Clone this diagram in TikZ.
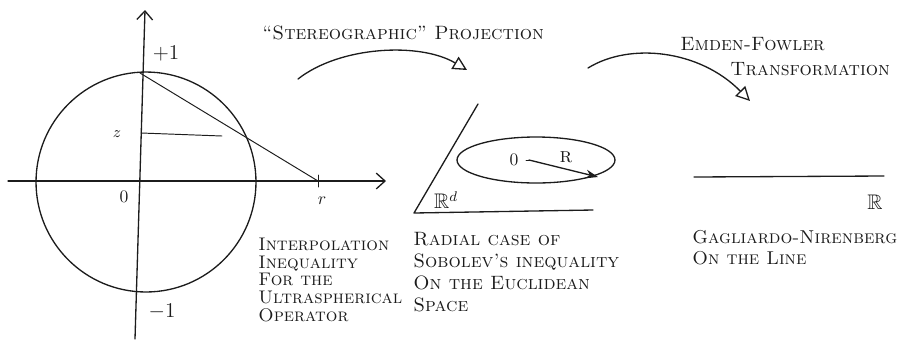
\documentclass[tikz,border=0pt]{standalone}
\usepackage{amssymb}
\usepackage{tikz}
\usetikzlibrary{arrows.meta,calc,positioning,shapes.geometric}
\definecolor{Ink}{HTML}{1C1C1C}

\begin{document}
\begin{tikzpicture}[x=0.02cm,y=-0.02cm,line cap=round,line join=round,
    pen/.style={draw=Ink,line width=0.75pt},
    thin pen/.style={draw=Ink,line width=0.55pt},
    lettering/.style={anchor=west,inner sep=0pt,text=Ink,font=\fontsize{11}{11}\selectfont\scshape},
    block/.style={lettering,anchor=north west,align=left},
    glyph/.style={inner sep=0pt,text=Ink,font=\large}]
    \useasboundingbox (0,0) rectangle (913,339);

    % sphere and its axes
    \node[circle,pen,minimum size=4.4cm,inner sep=0pt] (sphere) at (146,182) {};
    \coordinate (xl) at (8,181);
    \coordinate (xr) at (386,181);
    \coordinate (yb) at (135,339);
    \coordinate (yt) at (145,10);
    \draw[pen,-{Straight Barb[length=5pt,width=9pt]}] (xl) -- (xr);
    \draw[pen,-{Straight Barb[length=5pt,width=9pt]}] (yb) -- (yt);
    \coordinate (pole) at (140,73);
    \coordinate (rpt) at (318,181);
    \draw[thin pen] (pole) -- (rpt);
    \draw[thin pen] ($(rpt)+(0,-6)$) -- ($(rpt)+(0,6)$);
    \coordinate (zl) at (141,133);
    \coordinate (zr) at (222,136);
    \draw[thin pen] (zl) -- (zr);
    \node[glyph] (plus) at (166,54) {$+1$};
    \node[glyph] (minus) at (162,312) {$-1$};
    \node[glyph,font=\normalsize] (zero) at (124,197) {$0$};
    \node[glyph,font=\small] (zlab) at (117,134) {$z$};
    \node[glyph,font=\normalsize] (rlab) at (322,201) {$r$};

    % Euclidean space
    \coordinate (pa) at (478,104);
    \coordinate (pb) at (414,213);
    \coordinate (pc) at (593,210);
    \draw[pen] (pa) -- (pb) -- (pc);
    \node[glyph] (rd) at (446,200) {$\mathbb{R}^d$};
    \node[ellipse,pen,minimum width=3.16cm,minimum height=0.92cm,inner sep=0pt] (ball) at (536,160) {};
    \node[glyph,font=\normalsize] (orig) at (514,160) {$0$};
    \coordinate (ctr) at (529,160);
    \coordinate (edge) at (598,177);
    \draw[thin pen] ($(ctr)+(-3,0)$) -- ($(ctr)+(3,0)$);
    \draw[pen,-{Stealth[length=7pt,width=5pt]}] (ctr) -- (edge);
    \node[glyph,font=\large\scshape] (rad) at (566,157) {r};

    % the line
    \coordinate (ll) at (694,177);
    \coordinate (lr) at (884,176);
    \draw[pen] (ll) -- (lr);
    \node[glyph] (reals) at (875,202) {$\mathbb{R}$};

    % transformations
    \coordinate (s1) at (298,79);
    \coordinate (e1) at (467,70);
    \draw[pen,-{Triangle[open,length=8pt,width=8pt]}] (s1) .. controls (340,46) and (420,42) .. (e1);
    \coordinate (s2) at (588,68);
    \coordinate (e2) at (750,101);
    \draw[pen,-{Triangle[open,length=8pt,width=8pt]}] (s2) .. controls (630,42) and (700,50) .. (e2);
    \node[lettering] (stereo) at (262,33) {``Stereographic'' Projection};
    \node[lettering] (emden) at (680,44) {Emden-Fowler};
    \node[lettering] (transf) at (730,69) {Transformation};

    % captions
    \node[block,font=\fontsize{10.4}{10}\selectfont\scshape] (ultra) at (258,238)
      {Interpolation\\Inequality\\For the\\Ultraspherical\\Operator};
    \node[block,font=\fontsize{11}{12.5}\selectfont\scshape] (radial) at (413,232)
      {Radial case of\\Sobolev's inequality\\On the Euclidean\\Space};
    \node[block,font=\fontsize{10.6}{12}\selectfont\scshape] (gn) at (692,230)
      {Gagliardo-Nirenberg\\On the Line};
  \end{tikzpicture}
\end{document}
